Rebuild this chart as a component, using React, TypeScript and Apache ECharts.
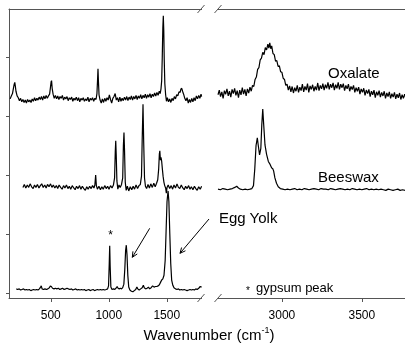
import React, { useEffect, useRef } from "react";
import * as echarts from "echarts";

// Wavenumber (cm-1), relative intensity (offset, arbitrary units)
const oxalateLow: [number, number][] = [
  [150, 3.29], [160, 3.34], [170, 3.38], [180, 3.49], [185, 3.54], [190, 3.57], [195, 3.5], [200, 3.42],
  [210, 3.34], [220, 3.31], [230, 3.26], [240, 3.3], [250, 3.24], [260, 3.28], [270, 3.23], [280, 3.27],
  [290, 3.22], [300, 3.28], [310, 3.24], [320, 3.27], [330, 3.23], [340, 3.29], [350, 3.25], [360, 3.31],
  [370, 3.26], [380, 3.3], [390, 3.27], [400, 3.32], [410, 3.28], [420, 3.33], [430, 3.27], [440, 3.34],
  [450, 3.29], [460, 3.35], [470, 3.3], [480, 3.34], [490, 3.37], [497, 3.48], [503, 3.58], [507, 3.6],
  [512, 3.47], [520, 3.37], [530, 3.3], [540, 3.35], [550, 3.29], [560, 3.34], [570, 3.28], [580, 3.33],
  [590, 3.3], [600, 3.35], [610, 3.27], [620, 3.32], [630, 3.29], [640, 3.33], [650, 3.26], [660, 3.31],
  [670, 3.28], [680, 3.32], [690, 3.25], [700, 3.3], [710, 3.27], [720, 3.32], [730, 3.26], [740, 3.31],
  [750, 3.24], [760, 3.3], [770, 3.27], [780, 3.31], [790, 3.25], [800, 3.29], [810, 3.26], [820, 3.32],
  [830, 3.24], [840, 3.3], [850, 3.27], [860, 3.31], [870, 3.25], [880, 3.3], [890, 3.28], [898, 3.38],
  [903, 3.6], [907, 3.8], [911, 3.58], [916, 3.36], [925, 3.27], [935, 3.22], [945, 3.29], [955, 3.23],
  [965, 3.3], [975, 3.25], [985, 3.31], [995, 3.27], [1005, 3.36], [1015, 3.28], [1025, 3.22], [1035, 3.3],
  [1045, 3.33], [1055, 3.38], [1065, 3.27], [1075, 3.31], [1085, 3.24], [1095, 3.32], [1105, 3.25], [1115, 3.3],
  [1125, 3.26], [1135, 3.32], [1145, 3.27], [1155, 3.33], [1165, 3.26], [1175, 3.32], [1185, 3.28], [1195, 3.34],
  [1205, 3.27], [1215, 3.33], [1225, 3.29], [1235, 3.35], [1245, 3.28], [1255, 3.34], [1265, 3.3], [1275, 3.36],
  [1285, 3.29], [1295, 3.35], [1305, 3.31], [1315, 3.37], [1325, 3.3], [1335, 3.36], [1345, 3.32], [1355, 3.38],
  [1365, 3.31], [1375, 3.37], [1385, 3.33], [1395, 3.39], [1405, 3.34], [1415, 3.4], [1425, 3.35], [1435, 3.42],
  [1443, 3.38], [1450, 3.46], [1456, 3.6], [1461, 4.0], [1466, 4.5], [1470, 4.7], [1474, 4.45], [1478, 3.95],
  [1483, 3.55], [1490, 3.36], [1497, 3.25], [1505, 3.31], [1515, 3.24], [1525, 3.29], [1535, 3.23], [1545, 3.3],
  [1555, 3.26], [1565, 3.33], [1575, 3.29], [1585, 3.36], [1595, 3.34], [1605, 3.41], [1615, 3.4], [1622, 3.46],
  [1629, 3.47], [1636, 3.42], [1645, 3.37], [1655, 3.3], [1665, 3.26], [1675, 3.31], [1685, 3.22], [1695, 3.28],
  [1705, 3.23], [1715, 3.3], [1725, 3.24], [1735, 3.31], [1745, 3.26], [1755, 3.34], [1765, 3.29], [1775, 3.35],
  [1785, 3.3], [1795, 3.37], [1800, 3.33],
];

const beeswaxLow: [number, number][] = [
  [260, 1.79], [272, 1.84], [285, 1.78], [298, 1.83], [310, 1.79], [322, 1.85], [335, 1.8], [348, 1.77],
  [360, 1.83], [372, 1.79], [385, 1.84], [398, 1.78], [410, 1.82], [422, 1.85], [435, 1.79], [448, 1.83],
  [460, 1.78], [472, 1.84], [485, 1.8], [498, 1.85], [510, 1.79], [522, 1.83], [535, 1.78], [548, 1.82],
  [560, 1.77], [572, 1.83], [585, 1.79], [598, 1.76], [610, 1.82], [622, 1.78], [635, 1.83], [648, 1.77],
  [660, 1.81], [672, 1.76], [685, 1.82], [698, 1.78], [710, 1.75], [722, 1.81], [735, 1.77], [748, 1.82],
  [760, 1.76], [772, 1.81], [785, 1.77], [798, 1.74], [810, 1.8], [822, 1.76], [835, 1.81], [848, 1.77],
  [860, 1.82], [872, 1.78], [880, 1.83], [887, 2.0], [893, 1.82], [902, 1.76], [915, 1.81], [928, 1.75],
  [940, 1.8], [952, 1.76], [965, 1.82], [978, 1.77], [990, 1.81], [1002, 1.76], [1015, 1.82], [1028, 1.78],
  [1040, 1.83], [1050, 1.95], [1056, 2.4], [1060, 2.58], [1064, 2.35], [1070, 1.9], [1078, 1.76], [1088, 1.83],
  [1098, 1.79], [1110, 1.84], [1120, 1.95], [1126, 2.5], [1131, 2.72], [1136, 2.4], [1142, 1.88], [1150, 1.74],
  [1160, 1.81], [1172, 1.73], [1185, 1.8], [1198, 1.75], [1210, 1.81], [1222, 1.76], [1235, 1.83], [1248, 1.77],
  [1260, 1.82], [1272, 1.84], [1282, 1.98], [1288, 2.6], [1295, 3.2], [1301, 2.55], [1308, 1.95], [1316, 1.81],
  [1326, 1.77], [1338, 1.84], [1350, 1.78], [1362, 1.85], [1375, 1.79], [1388, 1.86], [1400, 1.8], [1412, 1.86],
  [1422, 1.92], [1430, 2.1], [1436, 2.36], [1440, 2.41], [1445, 2.25], [1450, 2.3], [1456, 2.23], [1462, 2.1],
  [1468, 1.98], [1475, 1.88], [1482, 1.82], [1490, 1.78], [1496, 1.69], [1502, 1.79], [1512, 1.83], [1525, 1.77],
  [1538, 1.82], [1550, 1.76], [1562, 1.83], [1575, 1.78], [1588, 1.85], [1600, 1.79], [1612, 1.77], [1625, 1.83],
  [1638, 1.78], [1650, 1.75], [1662, 1.81], [1675, 1.77], [1688, 1.82], [1700, 1.76], [1712, 1.8], [1725, 1.75],
  [1738, 1.81], [1750, 1.77], [1762, 1.74], [1775, 1.8], [1788, 1.76], [1800, 1.81],
];

const eggYolkLow: [number, number][] = [
  [203, 0.07], [215, 0.06], [228, 0.07], [240, 0.05], [252, 0.06], [265, 0.07], [278, 0.05], [290, 0.06],
  [302, 0.05], [315, 0.06], [328, 0.04], [340, 0.05], [352, 0.06], [365, 0.05], [378, 0.06], [390, 0.05],
  [402, 0.07], [412, 0.1], [418, 0.12], [425, 0.07], [438, 0.06], [450, 0.07], [462, 0.06], [475, 0.07],
  [488, 0.09], [496, 0.12], [505, 0.11], [515, 0.08], [528, 0.07], [540, 0.08], [552, 0.07], [565, 0.08],
  [578, 0.06], [590, 0.07], [602, 0.08], [615, 0.06], [628, 0.07], [640, 0.08], [652, 0.07], [665, 0.06],
  [678, 0.07], [690, 0.05], [702, 0.06], [715, 0.07], [728, 0.05], [740, 0.06], [752, 0.05], [765, 0.06],
  [778, 0.05], [790, 0.06], [802, 0.04], [815, 0.05], [828, 0.06], [840, 0.04], [852, 0.05], [865, 0.06],
  [878, 0.04], [890, 0.05], [902, 0.06], [915, 0.05], [928, 0.06], [940, 0.05], [952, 0.06], [965, 0.05],
  [978, 0.06], [990, 0.07], [998, 0.12], [1004, 0.5], [1008, 0.8], [1012, 0.45], [1018, 0.1], [1028, 0.06],
  [1040, 0.07], [1052, 0.06], [1062, 0.08], [1072, 0.11], [1080, 0.08], [1090, 0.07], [1100, 0.08], [1110, 0.07],
  [1120, 0.09], [1130, 0.15], [1138, 0.4], [1145, 0.72], [1151, 0.81], [1157, 0.65], [1164, 0.3], [1172, 0.1],
  [1182, 0.05], [1195, 0.03], [1208, 0.02], [1220, 0.04], [1232, 0.06], [1242, 0.1], [1250, 0.07], [1262, 0.05],
  [1275, 0.07], [1288, 0.09], [1298, 0.13], [1306, 0.09], [1318, 0.07], [1330, 0.08], [1342, 0.1], [1352, 0.07],
  [1365, 0.09], [1378, 0.12], [1390, 0.1], [1402, 0.11], [1414, 0.11], [1426, 0.12], [1436, 0.14], [1446, 0.18],
  [1456, 0.22], [1466, 0.24], [1476, 0.3], [1486, 0.55], [1494, 1.05], [1502, 1.55], [1511, 1.73], [1518, 1.55],
  [1526, 1.0], [1534, 0.5], [1542, 0.22], [1552, 0.13], [1562, 0.09], [1575, 0.07], [1588, 0.06], [1600, 0.07],
  [1612, 0.05], [1625, 0.06], [1638, 0.05], [1650, 0.06], [1662, 0.05], [1675, 0.04], [1688, 0.05], [1700, 0.06],
  [1712, 0.05], [1725, 0.06], [1738, 0.05], [1750, 0.07], [1762, 0.06], [1775, 0.08], [1788, 0.11], [1800, 0.1],
];

const oxalateHigh: [number, number][] = [
  [2600, 3.36], [2608, 3.44], [2616, 3.33], [2624, 3.41], [2632, 3.3], [2640, 3.43], [2648, 3.37], [2656, 3.46],
  [2664, 3.34], [2672, 3.42], [2680, 3.32], [2688, 3.45], [2696, 3.38], [2704, 3.47], [2712, 3.35], [2720, 3.43],
  [2728, 3.31], [2736, 3.44], [2744, 3.36], [2752, 3.48], [2760, 3.37], [2768, 3.45], [2776, 3.34], [2784, 3.46],
  [2792, 3.39], [2800, 3.49], [2808, 3.42], [2816, 3.52], [2824, 3.5], [2832, 3.62], [2840, 3.66], [2848, 3.79],
  [2856, 3.82], [2864, 3.95], [2872, 3.98], [2880, 4.08], [2888, 4.04], [2896, 4.16], [2904, 4.12], [2912, 4.22],
  [2918, 4.15], [2924, 4.24], [2930, 4.14], [2936, 4.19], [2944, 4.06], [2952, 4.04], [2960, 3.93], [2968, 3.94],
  [2976, 3.84], [2984, 3.85], [2992, 3.75], [3000, 3.74], [3008, 3.64], [3016, 3.62], [3024, 3.52], [3032, 3.54],
  [3040, 3.44], [3048, 3.51], [3056, 3.41], [3064, 3.5], [3072, 3.39], [3080, 3.48], [3088, 3.42], [3096, 3.52],
  [3104, 3.4], [3112, 3.49], [3120, 3.43], [3128, 3.54], [3136, 3.41], [3144, 3.5], [3152, 3.44], [3160, 3.55],
  [3168, 3.4], [3176, 3.51], [3184, 3.45], [3192, 3.53], [3200, 3.42], [3208, 3.5], [3216, 3.44], [3224, 3.56],
  [3232, 3.43], [3240, 3.52], [3248, 3.46], [3256, 3.55], [3264, 3.44], [3272, 3.53], [3280, 3.47], [3288, 3.57],
  [3296, 3.45], [3304, 3.54], [3312, 3.48], [3320, 3.56], [3328, 3.44], [3336, 3.53], [3344, 3.47], [3352, 3.57],
  [3360, 3.45], [3368, 3.54], [3376, 3.48], [3384, 3.55], [3392, 3.43], [3400, 3.52], [3408, 3.46], [3416, 3.54],
  [3424, 3.42], [3432, 3.5], [3440, 3.45], [3448, 3.52], [3456, 3.4], [3464, 3.48], [3472, 3.42], [3480, 3.49],
  [3488, 3.37], [3496, 3.46], [3504, 3.4], [3512, 3.47], [3520, 3.35], [3528, 3.44], [3536, 3.38], [3544, 3.45],
  [3552, 3.33], [3560, 3.42], [3568, 3.36], [3576, 3.44], [3584, 3.31], [3592, 3.41], [3600, 3.35], [3608, 3.43],
  [3616, 3.32], [3624, 3.4], [3632, 3.34], [3640, 3.42], [3648, 3.3], [3656, 3.39], [3664, 3.33], [3672, 3.41],
  [3680, 3.3], [3688, 3.38], [3696, 3.32], [3704, 3.4], [3712, 3.29], [3720, 3.37], [3728, 3.31], [3736, 3.39],
  [3744, 3.28], [3752, 3.36], [3760, 3.3], [3768, 3.37], [3770, 3.33],
];

const beeswaxHigh: [number, number][] = [
  [2600, 1.76], [2615, 1.75], [2630, 1.77], [2645, 1.76], [2660, 1.75], [2675, 1.76], [2690, 1.77], [2705, 1.79],
  [2717, 1.81], [2728, 1.78], [2740, 1.76], [2755, 1.75], [2770, 1.76], [2785, 1.75], [2800, 1.76], [2812, 1.77],
  [2822, 1.82], [2830, 2.1], [2838, 2.5], [2846, 2.63], [2852, 2.5], [2860, 2.34], [2868, 2.45], [2874, 2.85],
  [2880, 3.12], [2886, 2.85], [2894, 2.51], [2904, 2.35], [2915, 2.23], [2926, 2.18], [2936, 2.12], [2942, 2.11],
  [2948, 2.07], [2956, 1.95], [2966, 1.86], [2977, 1.8], [2990, 1.77], [3005, 1.76], [3020, 1.75], [3035, 1.76],
  [3050, 1.75], [3065, 1.76], [3080, 1.77], [3095, 1.75], [3110, 1.76], [3125, 1.75], [3140, 1.77], [3155, 1.76],
  [3170, 1.75], [3185, 1.76], [3200, 1.77], [3215, 1.76], [3230, 1.75], [3245, 1.77], [3260, 1.76], [3275, 1.76],
  [3290, 1.75], [3305, 1.77], [3320, 1.76], [3335, 1.75], [3350, 1.76], [3365, 1.77], [3380, 1.76], [3395, 1.75],
  [3410, 1.76], [3425, 1.75], [3440, 1.77], [3455, 1.76], [3470, 1.75], [3485, 1.76], [3500, 1.75], [3515, 1.76],
  [3530, 1.77], [3545, 1.75], [3560, 1.76], [3575, 1.75], [3590, 1.76], [3605, 1.75], [3620, 1.76], [3635, 1.75],
  [3650, 1.74], [3665, 1.76], [3680, 1.75], [3695, 1.74], [3710, 1.75], [3725, 1.76], [3740, 1.74], [3755, 1.75],
  [3770, 1.74],
];

const lowTicks = [500, 1000, 1500];
const highTicks = [3000, 3500];
const yTicks = [0, 1, 2, 3, 4];

const FONT = "'Liberation Sans', Arial, Helvetica, sans-serif";
const AXIS_COLOR = "#555";

function arrow(x1: number, y1: number, x2: number, y2: number) {
  const dx = x2 - x1;
  const dy = y2 - y1;
  const len = Math.sqrt(dx * dx + dy * dy);
  const ux = -dx / len;
  const uy = -dy / len;
  const a = (25 * Math.PI) / 180;
  const h = 6;
  const p1 = [x2 + h * (ux * Math.cos(a) - uy * Math.sin(a)), y2 + h * (ux * Math.sin(a) + uy * Math.cos(a))];
  const p2 = [x2 + h * (ux * Math.cos(a) + uy * Math.sin(a)), y2 + h * (-ux * Math.sin(a) + uy * Math.cos(a))];
  return [
    { type: "line", shape: { x1, y1, x2, y2 }, style: { stroke: "#000", lineWidth: 1 } },
    { type: "polyline", shape: { points: [p1, [x2, y2], p2] }, style: { stroke: "#000", lineWidth: 1, fill: null } },
  ];
}

function slash(cx: number, cy: number) {
  return {
    type: "line",
    shape: { x1: cx - 3.5, y1: cy + 4, x2: cx + 3.5, y2: cy - 4 },
    style: { stroke: AXIS_COLOR, lineWidth: 1 },
  };
}

export default function App() {
  const ref = useRef<HTMLDivElement>(null);
  useEffect(() => {
    if (!ref.current) return;
    const chart = echarts.init(ref.current, undefined, { renderer: "svg" });
    const yMin = -0.085;
    const yMax = 4.814;
    const bottomAxis = (idx: number, min: number, max: number, ticks: number[]) => ({
      type: "value",
      gridIndex: idx,
      min,
      max,
      position: "bottom",
      axisLine: { show: true, onZero: false, lineStyle: { color: AXIS_COLOR, width: 1 } },
      axisTick: { show: true, customValues: ticks, length: 4, lineStyle: { color: AXIS_COLOR } },
      axisLabel: {
        show: true,
        customValues: ticks,
        margin: 11,
        fontSize: 12,
        color: "#000",
        fontFamily: FONT,
        formatter: (v: number) => String(v),
      },
      splitLine: { show: false },
    });
    const topAxis = (idx: number, min: number, max: number) => ({
      type: "value",
      gridIndex: idx,
      min,
      max,
      position: "top",
      axisLine: { show: true, onZero: false, lineStyle: { color: AXIS_COLOR, width: 1 } },
      axisTick: { show: false },
      axisLabel: { show: false },
      splitLine: { show: false },
    });
    const line = (name: string, data: [number, number][], xi: number, yi: number) => ({
      name,
      type: "line",
      xAxisIndex: xi,
      yAxisIndex: yi,
      data,
      showSymbol: false,
      symbol: "none",
      lineStyle: { color: "#000", width: 1.2 },
      clip: true,
    });
    chart.setOption({
      animation: false,
      grid: [
        { left: 9, top: 9, width: 192.6, height: 289 },
        { left: 218, top: 9, width: 187, height: 289 },
      ],
      xAxis: [
        bottomAxis(0, 140, 1800, lowTicks),
        topAxis(0, 140, 1800),
        bottomAxis(1, 2600, 3770, highTicks),
        topAxis(1, 2600, 3770),
      ],
      yAxis: [
        {
          type: "value",
          gridIndex: 0,
          min: yMin,
          max: yMax,
          position: "left",
          axisLine: { show: true, onZero: false, lineStyle: { color: AXIS_COLOR, width: 1 } },
          axisTick: { show: true, customValues: yTicks, length: 3, lineStyle: { color: AXIS_COLOR } },
          axisLabel: { show: false },
          splitLine: { show: false },
        },
        { type: "value", gridIndex: 1, min: yMin, max: yMax, show: false, splitLine: { show: false } },
      ],
      series: [
        line("Oxalate", oxalateLow, 0, 0),
        line("Beeswax", beeswaxLow, 0, 0),
        line("Egg Yolk", eggYolkLow, 0, 0),
        line("Oxalate", oxalateHigh, 2, 1),
        line("Beeswax", beeswaxHigh, 2, 1),
      ],
      graphic: [
        slash(201, 9),
        slash(218, 9),
        slash(201, 298),
        slash(218, 298),
        ...arrow(149.7, 228.3, 132.3, 257.3),
        ...arrow(209, 219, 180, 253.3),
        {
          type: "text",
          x: 328,
          y: 72,
          style: { text: "Oxalate", fontSize: 15, fontFamily: FONT, fill: "#000", textAlign: "left", textVerticalAlign: "middle" },
        },
        {
          type: "text",
          x: 318,
          y: 176,
          style: { text: "Beeswax", fontSize: 15, fontFamily: FONT, fill: "#000", textAlign: "left", textVerticalAlign: "middle" },
        },
        {
          type: "text",
          x: 219,
          y: 217,
          style: { text: "Egg Yolk", fontSize: 15, fontFamily: FONT, fill: "#000", textAlign: "left", textVerticalAlign: "middle" },
        },
        {
          type: "text",
          x: 110.5,
          y: 235,
          style: { text: "*", fontSize: 12, fontFamily: FONT, fill: "#000", textAlign: "center", textVerticalAlign: "middle" },
        },
        {
          type: "text",
          x: 248,
          y: 290,
          style: { text: "*", fontSize: 10, fontFamily: FONT, fill: "#000", textAlign: "center", textVerticalAlign: "middle" },
        },
        {
          type: "text",
          x: 256,
          y: 287,
          style: { text: "gypsum peak", fontSize: 13, fontFamily: FONT, fill: "#000", textAlign: "left", textVerticalAlign: "middle" },
        },
        {
          type: "text",
          x: 209,
          y: 334,
          style: {
            text: "{a|Wavenumber (cm}{b|-1}{a|)}",
            fontFamily: FONT,
            fill: "#000",
            textAlign: "center",
            textVerticalAlign: "middle",
            rich: {
              a: { fontSize: 15, fontFamily: FONT, fill: "#000", lineHeight: 18 },
              b: { fontSize: 9, fontFamily: FONT, fill: "#000", lineHeight: 18, padding: [0, 0, 9, 0] },
            },
          },
        },
      ],
    });
    return () => chart.dispose();
  }, []);
  return <div ref={ref} style={{ position: "fixed", left: 0, top: 0, width: 405, height: 353 }} />;
}
